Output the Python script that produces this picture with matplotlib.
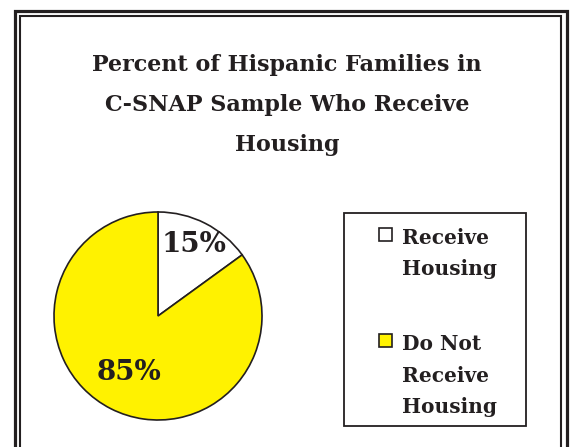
import numpy as np
import matplotlib
matplotlib.use('Agg')
import matplotlib.pyplot as plt
from matplotlib.lines import Line2D
from matplotlib.patches import Rectangle

# data
categories = ['Receive\nHousing', 'Do Not\nReceive\nHousing']
values = [15, 85]
colors = ['#FFFFFF', '#FFF200']
label_dist = [0.77, 0.61]
title = 'Percent of Hispanic Families in\nC-SNAP Sample Who Receive\nHousing'

W, H = 571, 447
ink = '#231F20'
font = 'DejaVu Serif'

fig = plt.figure(figsize=(W / 100, H / 100), dpi=100)


def fx(x):
    return x / W


def fy(y):
    return 1 - y / H


# double frame round the chart (runs off the bottom)
outer = Line2D([fx(14.8), fx(14.8), fx(566.7), fx(566.7)],
               [fy(470), fy(11.3), fy(11.3), fy(470)],
               transform=fig.transFigure, color=ink, lw=2.3,
               solid_joinstyle='miter')
inner = Line2D([fx(19.7), fx(19.7), fx(561.4), fx(561.4)],
               [fy(470), fy(15.7), fy(15.7), fy(470)],
               transform=fig.transFigure, color=ink, lw=1.5,
               solid_joinstyle='miter')
fig.lines.extend([outer, inner])

# va='baseline' sits on the last line's baseline
fig.text(fx(287), fy(151), title, ha='center', va='baseline',
         fontsize=16, fontweight='bold', family=font, color=ink,
         linespacing=2.05)

# pie
cx, cy, r = 158, 316, 104
ax = fig.add_axes([fx(cx - r), fy(cy + r), 2 * r / W, 2 * r / H])
wedges, texts, autotexts = ax.pie(
    values, colors=colors, startangle=90, counterclock=False,
    autopct='%d%%', wedgeprops=dict(edgecolor=ink, linewidth=1.2),
    textprops=dict(fontsize=20, fontweight='bold', family=font, color=ink))
for w, t, d in zip(wedges, autotexts, label_dist):
    ang = np.deg2rad((w.theta1 + w.theta2) / 2)
    t.set_position((d * np.cos(ang), d * np.sin(ang)))
ax.set_xlim(-1, 1)
ax.set_ylim(-1, 1)
for w in wedges:
    w.set_clip_on(False)

# legend box
fig.patches.append(Rectangle((fx(343.5), fy(426)), (526 - 343.5) / W,
                             (426 - 212.8) / H, transform=fig.transFigure,
                             facecolor='none', edgecolor=ink, lw=1.3))
entry_top = [227.6, 333.7]
entry_base = [274.7, 412.8]
for lab, col, top, base in zip(categories, colors, entry_top, entry_base):
    fig.patches.append(Rectangle((fx(379), fy(top + 13)), 13 / W, 13 / H,
                                 transform=fig.transFigure, facecolor=col,
                                 edgecolor=ink, lw=1.2))
    fig.text(fx(402.4), fy(base), lab, ha='left', va='baseline',
             fontsize=14.5, fontweight='bold', family=font, color=ink,
             linespacing=1.7)

fig.savefig('out.png', dpi=100)
